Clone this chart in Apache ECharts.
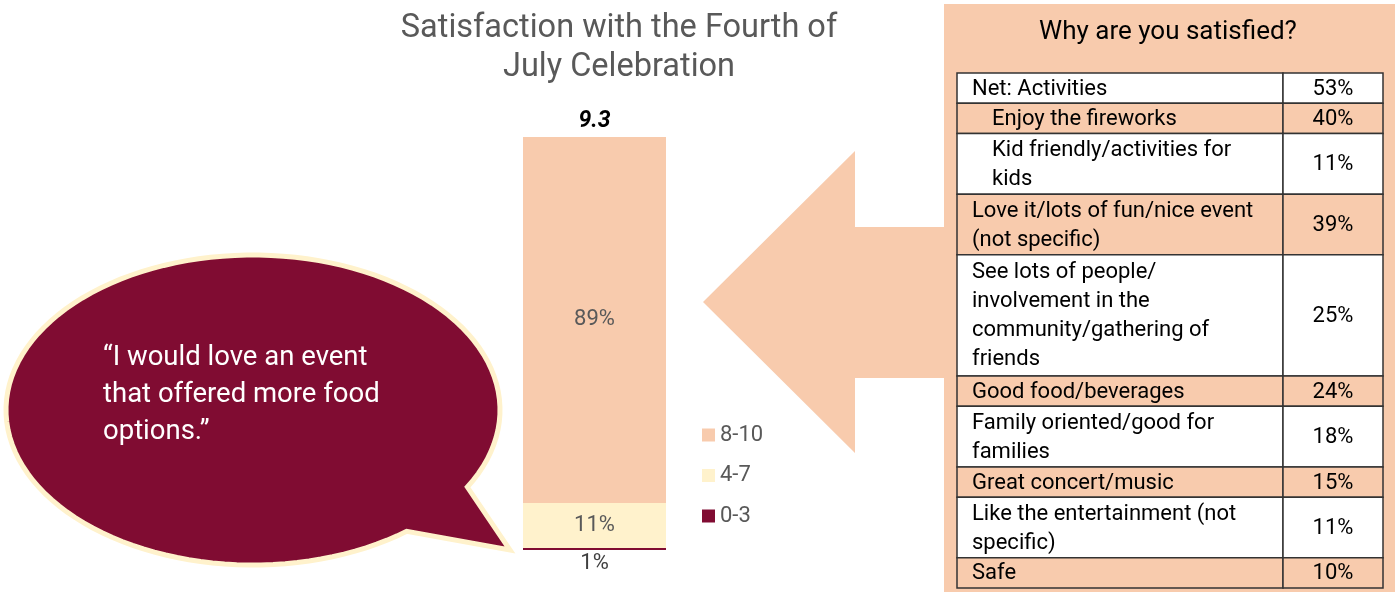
<!DOCTYPE html>
<html>
<head>
<meta charset="utf-8">
<script src="https://cdn.jsdelivr.net/npm/echarts@6/dist/echarts.min.js"></script>
<style>
  html, body { margin: 0; padding: 0; background: #fff; }
  #main { width: 1395px; height: 592px; }
</style>
</head>
<body>
<div id="main"></div>
<script>
// 满意度柱状图 + 右侧原因表格

// 数据
const bands = ["0-3", "4-7", "8-10"];
const shares = [0.5, 10.9, 88.6];
const shareLabels = ["1%", "11%", "89%"];
const meanScore = 9.3;

const reasons = [
  "Net: Activities",
  "Enjoy the fireworks",
  "Kid friendly/activities for\nkids",
  "Love it/lots of fun/nice event\n(not specific)",
  "See lots of people/\ninvolvement in the\ncommunity/gathering of\nfriends",
  "Good food/beverages",
  "Family oriented/good for\nfamilies",
  "Great concert/music",
  "Like the entertainment (not\nspecific)",
  "Safe"
];
const reasonPct = ["53%", "40%", "11%", "39%", "25%", "24%", "18%", "15%", "11%", "10%"];
const reasonIndent = [0, 1, 1, 0, 0, 0, 0, 0, 0, 0];

const quote = "\u201cI would love an event\nthat offered more food\noptions.\u201d";

// 颜色
const peach = "#f8cbad";
const cream = "#fff2cc";
const maroon = "#800c32";
const bandColors = [maroon, cream, peach];
const font = "Roboto";

let chart = echarts.init(document.getElementById("main"));

// 对话气泡（椭圆 + 尾巴）
function bubblePoints() {
  const cx = 253, cy = 410, rx = 247, ry = 155;
  const a0 = 51.5 * Math.PI / 180;
  const a1 = (360 + 29.8) * Math.PI / 180;
  const pts = [];
  const n = 120;
  for (let i = 0; i <= n; i++) {
    const t = a0 + (a1 - a0) * i / n;
    pts.push([cx + rx * Math.cos(t), cy + ry * Math.sin(t)]);
  }
  pts.push([510, 550]);
  return pts;
}

// 表格
function tableGraphics() {
  const els = [];
  const x0 = 957, x1 = 1283, x2 = 1383;
  const lineH = 30.3;
  let y = 73;
  els.push({
    type: "rect",
    shape: { x: 944, y: 4, width: 451, height: 588 },
    style: { fill: peach }
  });
  els.push({
    type: "text",
    style: {
      text: "Why are you satisfied?",
      x: 1168, y: 32,
      textAlign: "center", textVerticalAlign: "middle",
      font: "26px " + font, fill: "#000"
    }
  });
  reasons.forEach((r, i) => {
    const lines = r.split("\n").length;
    const h = lines * lineH;
    const fill = i % 2 === 0 ? "#fff" : peach;
    els.push({
      type: "rect",
      shape: { x: x0, y: y, width: x1 - x0, height: h },
      style: { fill: fill, stroke: "#333", lineWidth: 1.5 }
    });
    els.push({
      type: "rect",
      shape: { x: x1, y: y, width: x2 - x1, height: h },
      style: { fill: fill, stroke: "#333", lineWidth: 1.5 }
    });
    els.push({
      type: "text",
      style: {
        text: r,
        x: x0 + (reasonIndent[i] ? 35 : 15), y: y + h / 2 + 1,
        textVerticalAlign: "middle",
        lineHeight: 29,
        font: "22px " + font, fill: "#000"
      }
    });
    els.push({
      type: "text",
      style: {
        text: reasonPct[i],
        x: (x1 + x2) / 2, y: y + h / 2 + 1,
        textAlign: "center", textVerticalAlign: "middle",
        font: "22px " + font, fill: "#000"
      }
    });
    y += h;
  });
  return els;
}

let graphics = [
  {
    type: "polygon",
    shape: { points: bubblePoints() },
    style: { fill: maroon, stroke: cream, lineWidth: 5, lineJoin: "miter" }
  },
  {
    type: "text",
    style: {
      text: quote,
      x: 103, y: 395,
      textVerticalAlign: "middle",
      lineHeight: 37,
      font: "27.5px " + font, fill: "#fff"
    }
  },
  {
    // 指向柱子的大箭头
    type: "polygon",
    shape: {
      points: [[703, 302], [855, 151], [855, 227], [946, 227], [946, 378], [855, 378], [855, 453]]
    },
    style: { fill: peach }
  }
].concat(tableGraphics());

let option = {
  backgroundColor: "#fff",
  animation: false,
  title: {
    text: "Satisfaction with the Fourth of\nJuly Celebration",
    left: 614,
    top: 4,
    textAlign: "center",
    textStyle: {
      fontFamily: font,
      fontWeight: "normal",
      fontSize: 32.5,
      lineHeight: 39,
      color: "#595959"
    }
  },
  legend: {
    orient: "vertical",
    left: 702,
    top: 424,
    padding: 0,
    itemWidth: 13,
    itemHeight: 13,
    itemGap: 18.5,
    icon: "rect",
    data: ["8-10", "4-7", "0-3"],
    textStyle: { fontFamily: font, fontSize: 22, color: "#595959" }
  },
  grid: { left: 523, width: 143, top: 137, bottom: 42 },
  xAxis: {
    type: "category",
    data: ["Satisfaction"],
    show: false
  },
  yAxis: {
    type: "value",
    min: 0,
    max: 100,
    show: false
  },
  series: bands.map((b, i) => ({
    name: b,
    type: "bar",
    stack: "total",
    barWidth: "100%",
    data: [shares[i]],
    itemStyle: { color: bandColors[i] },
    label: {
      show: true,
      position: i === 0 ? "bottom" : "inside",
      distance: 2,
      formatter: () => shareLabels[i],
      fontFamily: font,
      fontSize: 22,
      color: i === 0 ? "#404040" : "#595959"
    }
  })),
  graphic: graphics
};
chart.setOption(option);

// 平均分放在柱子顶部
const barTop = chart.convertToPixel({ gridIndex: 0 }, [0, 100]);
graphics.push({
  type: "text",
  style: {
    text: String(meanScore),
    x: barTop[0], y: barTop[1] - 16,
    textAlign: "center", textVerticalAlign: "middle",
    font: "italic bold 23px " + font, fill: "#000"
  }
});
chart.setOption({ graphic: graphics }, { replaceMerge: ["graphic"] });
</script>
</body>
</html>
